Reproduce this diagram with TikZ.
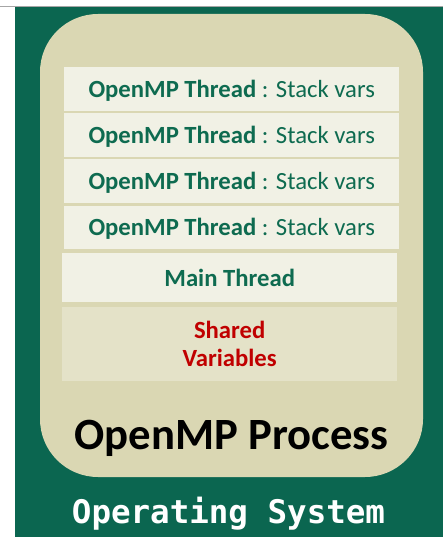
\documentclass[tikz,border=0pt]{standalone}
\usepackage{fontspec}
\setmainfont{Carlito}
\newfontfamily\osmono{DejaVu Sans Mono}
\definecolor{osgreen}{HTML}{0B6650}
\definecolor{proctan}{HTML}{DAD7B3}
\definecolor{threadfill}{HTML}{F1F1E5}
\definecolor{sharedfill}{HTML}{E4E2C8}
\definecolor{threadtext}{HTML}{0E6B50}
\definecolor{sharedtext}{HTML}{C00000}
\newcommand\slabfont{\fontsize{24.7}{28}\selectfont}
\tikzset{
  px/.style={x=1pt,y=-1pt},
  slab/.style={draw=none, inner sep=0pt, anchor=north west},
  slabtext/.style={font=\slabfont},
  slabbold/.style={font=\slabfont\bfseries},
}
\begin{document}
\begin{tikzpicture}[px]
  % canvas
  \fill[white] (0,0) rectangle (446,537);
  \useasboundingbox (0,0) rectangle (446,537);
  \draw[gray!70, line width=1pt] (0,6.5) -- (443,6.5);
  % operating system layer
  \fill[osgreen] (15,7) rectangle (443,537);
  % process container
  \fill[proctan, rounded corners=58pt] (40,14) rectangle (423,477);
  % thread stacks
  \foreach \i/\t in {1/67,2/113.3,3/159.3,4/205.3}{
    \node[slab, fill=threadfill, minimum width=335pt, minimum height=43.6pt]
      (thr\i) at (64,\t) {};
    \node (lbl\i) at ([yshift=-1.5pt]thr\i.center) [slabtext, text=threadtext]
      {\textbf{OpenMP Thread} : Stack vars};
  }
  % main thread
  \node[slab, fill=threadfill, minimum width=335pt, minimum height=48.7pt]
    (main) at (62,253) {};
  \node (mainlbl) at (main.center) [slabbold, text=threadtext]
    {Main Thread};
  % shared data
  \node[slab, fill=sharedfill, minimum width=335pt, minimum height=73.7pt]
    (shared) at (62,307) {};
  \node (sharedlbl) at (shared.center) [slabbold, text=sharedtext, align=center]
    {Shared\\Variables};
  % titles
  \node (proc) at (231.5,438) [font=\fontsize{44.7}{48}\selectfont\bfseries, text=black]
    {OpenMP Process};
  \node (os) at (228.5,513.5) [font=\osmono\fontsize{32.5}{36}\selectfont\bfseries, text=white]
    {Operating System};
\end{tikzpicture}
\end{document}
